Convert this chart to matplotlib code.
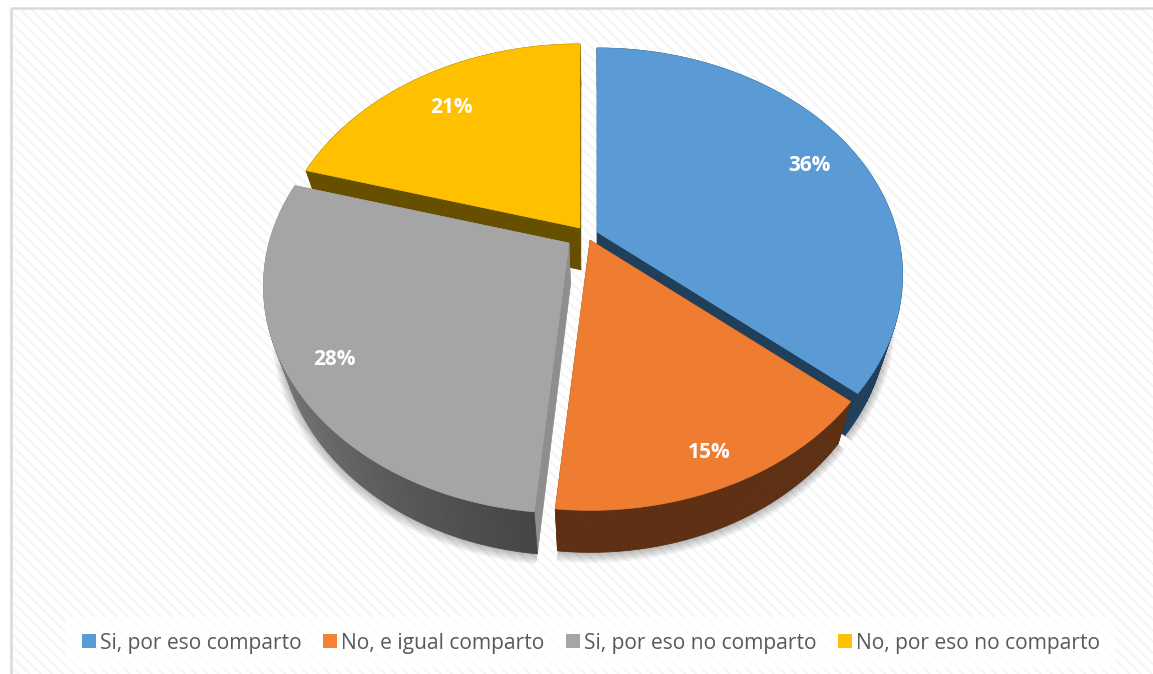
import numpy as np
import matplotlib
matplotlib.use("Agg")
import matplotlib.pyplot as plt
from matplotlib.patches import Polygon, Rectangle, Patch

categories = ["Si, por eso comparto", "No, e igual comparto",
              "Si, por eso no comparto", "No, por eso no comparto"]
values = [36.2, 15.3, 27.95, 20.55]

top_colors = ["#5b9bd5", "#ef7d31", "#a5a5a5", "#ffc000"]
legend_colors = ["#5b9bd5", "#f58232", "#a5a5a5", "#ffc000"]
side_colors = ["#203f5b", "#5e2f12", "#8e8e8e", "#665000"]

# where the tip of each exploded slice lands, in pixels
tips = [(597, 232), (590, 240), (569, 243), (580, 228)]
# nudges for the percent labels
label_nudge = [(8, 3), (14, 24), (-18, 9), (0, 4)]

W, H = 1153, 674
A, C, K = 300.0, 219.0, 0.19   # perspective of the disc
DEPTH = 42.0
SHRINK = 0.95

plt.rcParams["hatch.linewidth"] = 1.4
plt.rcParams["font.family"] = ["Open Sans", "DejaVu Sans"]

fig = plt.figure(figsize=(W / 100, H / 100), dpi=100)
ax = fig.add_axes([0, 0, 1, 1])
ax.set_xlim(0, W)
ax.set_ylim(H, 0)
ax.axis("off")

# fondo rayado y marco
ax.add_patch(Rectangle((11, 8), W, H, facecolor="white", edgecolor="#f4f4f4",
                       hatch="\\\\\\", linewidth=0, zorder=0))
ax.add_patch(Rectangle((11, 8), W, H, fill=False, edgecolor="#d9d9d9",
                       linewidth=1.8, zorder=1))


def project(tip, deg, r=1.0):
    # angle clockwise from the top of the pie, perspective towards the back
    t = np.radians(deg)
    x = r * np.sin(t)
    y = r * np.cos(t)
    d = 1 + K * y
    return np.column_stack([tip[0] + A * x / d, tip[1] - C * y / d])


def lower(pts):
    out = pts.copy()
    out[:, 0] = 600 + (out[:, 0] - 600) * SHRINK
    out[:, 1] = out[:, 1] + DEPTH
    return out


edges = np.concatenate([[0], np.cumsum(values)]) / sum(values) * 360
arcs = []
for i in range(4):
    arcs.append(np.linspace(edges[i], edges[i + 1], 120))

# sombra difusa
for i in range(4):
    outline = lower(project(tips[i], arcs[i]))
    tip_low = lower(np.array([tips[i]], dtype=float))
    for s in range(1, 9):
        shadow = outline.copy()
        shadow[:, 0] = 585 + (shadow[:, 0] - 585) * (1 + 0.0035 * s)
        shadow[:, 1] = 290 + (shadow[:, 1] - 290) * (1 + 0.005 * s)
        ax.add_patch(Polygon(np.vstack([tip_low, shadow]), closed=True, facecolor="black",
                             edgecolor="none", alpha=0.035, zorder=2))


def draw_slice(i, z):
    tip = np.array([tips[i]], dtype=float)
    rim = project(tips[i], arcs[i])
    low_rim = lower(rim)
    low_tip = lower(tip)
    # caras de corte
    for edge_top, edge_low in [(rim[0], low_rim[0]), (rim[-1], low_rim[-1])]:
        ax.add_patch(Polygon([tip[0], edge_top, edge_low, low_tip[0]], closed=True,
                             facecolor=side_colors[i], edgecolor=side_colors[i],
                             linewidth=0.3, zorder=z))
    # pared exterior
    for j in range(len(rim) - 1):
        col = side_colors[i]
        if i == 2:
            # grey wall goes darker towards the front
            f = j / (len(rim) - 2)
            g = 0.27 + 0.34 * f
            col = (g, g, g)
        ax.add_patch(Polygon([rim[j], rim[j + 1], low_rim[j + 1], low_rim[j]], closed=True,
                             facecolor=col, edgecolor=col, linewidth=0.5, zorder=z))
    ax.add_patch(Polygon(np.vstack([tip, rim]), closed=True, facecolor=top_colors[i],
                         edgecolor=top_colors[i], linewidth=0.4, zorder=z + 0.5))


for z, i in enumerate([3, 0, 2, 1]):
    draw_slice(i, 3 + z)

# etiquetas
for i in range(4):
    mid = (edges[i] + edges[i + 1]) / 2
    p = project(tips[i], mid, 0.8)[0]
    ax.text(p[0] + label_nudge[i][0], p[1] + label_nudge[i][1], "%d%%" % round(values[i]),
            color="white", fontsize=15, fontweight="bold", ha="center", va="center", zorder=10)

handles = [Patch(facecolor=c, edgecolor="none") for c in legend_colors]
leg = ax.legend(handles, categories, ncol=4, loc="center",
                bbox_to_anchor=(591 / W, 1 - 643 / H), frameon=True, fontsize=15.1,
                handlelength=0.68, handleheight=0.68, handletextpad=0.2, columnspacing=1.0,
                labelcolor="#595959", borderpad=0.75, fancybox=False)
leg.get_frame().set_facecolor("white")
leg.get_frame().set_edgecolor("none")
leg.get_frame().set_alpha(0.75)
leg.set_zorder(11)

fig.savefig("out.png", dpi=100, facecolor="white")
